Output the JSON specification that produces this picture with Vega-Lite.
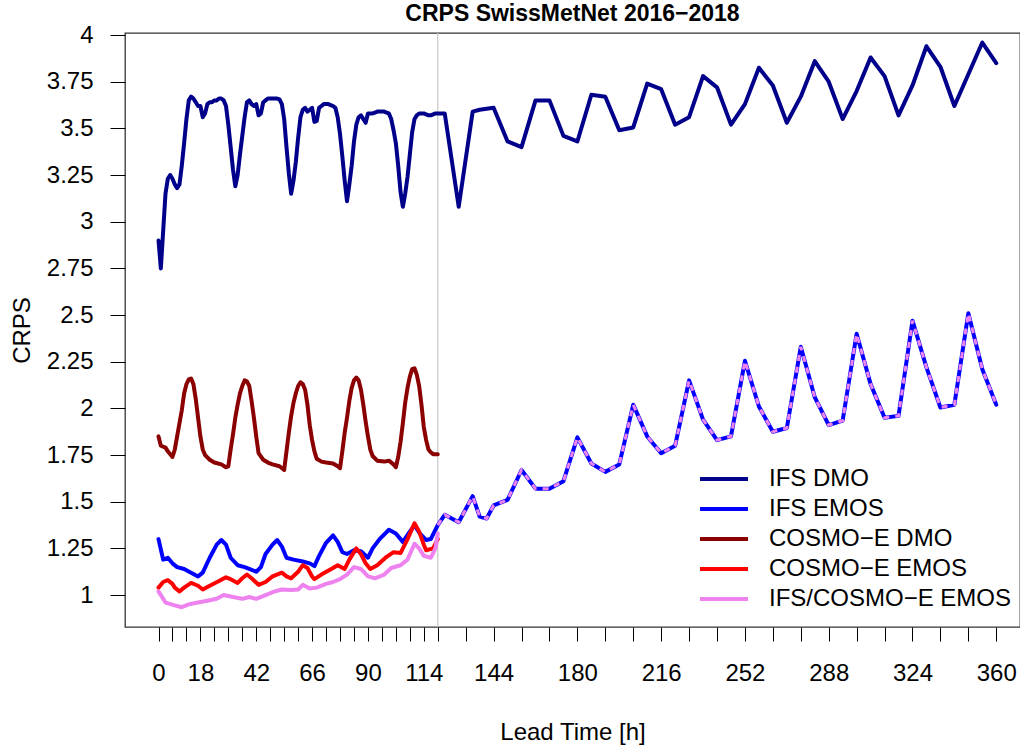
{
  "$schema": "https://vega.github.io/schema/vega-lite/v6.json",
  "autosize": "none",
  "width": 895,
  "height": 594,
  "padding": {"left": 125, "top": 33, "right": 0, "bottom": 120},
  "background": "white",
  "title": {"text": "CRPS SwissMetNet 2016−2018", "font": "Liberation Sans", "fontSize": 23, "fontWeight": "bold", "color": "#000", "anchor": "middle", "offset": -3},
  "config": {"view": {"stroke": "#333", "strokeWidth": 1.3}, "font": "Liberation Sans", "axis": {"labelOverlap": false, "labelSeparation": -200}},
  "datasets": {
    "crps": [
      {"series":"IFS DMO","h":0,"crps":2.90},{"series":"IFS DMO","h":1,"crps":2.75},{"series":"IFS DMO","h":2,"crps":2.95},{"series":"IFS DMO","h":3,"crps":3.15},{"series":"IFS DMO","h":4,"crps":3.23},{"series":"IFS DMO","h":5,"crps":3.25},{"series":"IFS DMO","h":6,"crps":3.23},{"series":"IFS DMO","h":7,"crps":3.20},{"series":"IFS DMO","h":8,"crps":3.18},{"series":"IFS DMO","h":9,"crps":3.20},{"series":"IFS DMO","h":10,"crps":3.30},{"series":"IFS DMO","h":11,"crps":3.42},{"series":"IFS DMO","h":12,"crps":3.55},{"series":"IFS DMO","h":13,"crps":3.65},{"series":"IFS DMO","h":14,"crps":3.67},{"series":"IFS DMO","h":15,"crps":3.66},{"series":"IFS DMO","h":16,"crps":3.64},{"series":"IFS DMO","h":17,"crps":3.62},{"series":"IFS DMO","h":18,"crps":3.62},{"series":"IFS DMO","h":19,"crps":3.56},{"series":"IFS DMO","h":20,"crps":3.58},{"series":"IFS DMO","h":21,"crps":3.63},{"series":"IFS DMO","h":22,"crps":3.64},{"series":"IFS DMO","h":23,"crps":3.64},{"series":"IFS DMO","h":24,"crps":3.65},{"series":"IFS DMO","h":25,"crps":3.65},{"series":"IFS DMO","h":26,"crps":3.66},{"series":"IFS DMO","h":27,"crps":3.66},{"series":"IFS DMO","h":28,"crps":3.65},{"series":"IFS DMO","h":29,"crps":3.62},{"series":"IFS DMO","h":30,"crps":3.52},{"series":"IFS DMO","h":31,"crps":3.40},{"series":"IFS DMO","h":32,"crps":3.28},{"series":"IFS DMO","h":33,"crps":3.19},{"series":"IFS DMO","h":34,"crps":3.25},{"series":"IFS DMO","h":35,"crps":3.36},{"series":"IFS DMO","h":36,"crps":3.46},{"series":"IFS DMO","h":37,"crps":3.56},{"series":"IFS DMO","h":38,"crps":3.64},{"series":"IFS DMO","h":39,"crps":3.65},{"series":"IFS DMO","h":40,"crps":3.63},{"series":"IFS DMO","h":41,"crps":3.62},{"series":"IFS DMO","h":42,"crps":3.63},{"series":"IFS DMO","h":43,"crps":3.57},{"series":"IFS DMO","h":44,"crps":3.58},{"series":"IFS DMO","h":45,"crps":3.64},{"series":"IFS DMO","h":46,"crps":3.65},{"series":"IFS DMO","h":47,"crps":3.66},{"series":"IFS DMO","h":48,"crps":3.66},{"series":"IFS DMO","h":49,"crps":3.66},{"series":"IFS DMO","h":50,"crps":3.66},{"series":"IFS DMO","h":51,"crps":3.66},{"series":"IFS DMO","h":52,"crps":3.655},{"series":"IFS DMO","h":53,"crps":3.63},{"series":"IFS DMO","h":54,"crps":3.55},{"series":"IFS DMO","h":55,"crps":3.40},{"series":"IFS DMO","h":56,"crps":3.26},{"series":"IFS DMO","h":57,"crps":3.15},{"series":"IFS DMO","h":58,"crps":3.22},{"series":"IFS DMO","h":59,"crps":3.32},{"series":"IFS DMO","h":60,"crps":3.45},{"series":"IFS DMO","h":61,"crps":3.56},{"series":"IFS DMO","h":62,"crps":3.60},{"series":"IFS DMO","h":63,"crps":3.61},{"series":"IFS DMO","h":64,"crps":3.59},{"series":"IFS DMO","h":65,"crps":3.60},{"series":"IFS DMO","h":66,"crps":3.61},{"series":"IFS DMO","h":67,"crps":3.535},{"series":"IFS DMO","h":68,"crps":3.54},{"series":"IFS DMO","h":69,"crps":3.61},{"series":"IFS DMO","h":70,"crps":3.62},{"series":"IFS DMO","h":71,"crps":3.63},{"series":"IFS DMO","h":72,"crps":3.63},{"series":"IFS DMO","h":73,"crps":3.63},{"series":"IFS DMO","h":74,"crps":3.625},{"series":"IFS DMO","h":75,"crps":3.62},{"series":"IFS DMO","h":76,"crps":3.61},{"series":"IFS DMO","h":77,"crps":3.56},{"series":"IFS DMO","h":78,"crps":3.47},{"series":"IFS DMO","h":79,"crps":3.35},{"series":"IFS DMO","h":80,"crps":3.22},{"series":"IFS DMO","h":81,"crps":3.11},{"series":"IFS DMO","h":82,"crps":3.20},{"series":"IFS DMO","h":83,"crps":3.30},{"series":"IFS DMO","h":84,"crps":3.43},{"series":"IFS DMO","h":85,"crps":3.52},{"series":"IFS DMO","h":86,"crps":3.56},{"series":"IFS DMO","h":87,"crps":3.57},{"series":"IFS DMO","h":88,"crps":3.55},{"series":"IFS DMO","h":89,"crps":3.53},{"series":"IFS DMO","h":90,"crps":3.58},{"series":"IFS DMO","h":91,"crps":3.58},{"series":"IFS DMO","h":92,"crps":3.58},{"series":"IFS DMO","h":93,"crps":3.585},{"series":"IFS DMO","h":94,"crps":3.59},{"series":"IFS DMO","h":95,"crps":3.59},{"series":"IFS DMO","h":96,"crps":3.59},{"series":"IFS DMO","h":97,"crps":3.59},{"series":"IFS DMO","h":98,"crps":3.585},{"series":"IFS DMO","h":99,"crps":3.58},{"series":"IFS DMO","h":100,"crps":3.55},{"series":"IFS DMO","h":101,"crps":3.49},{"series":"IFS DMO","h":102,"crps":3.42},{"series":"IFS DMO","h":103,"crps":3.30},{"series":"IFS DMO","h":104,"crps":3.16},{"series":"IFS DMO","h":105,"crps":3.08},{"series":"IFS DMO","h":106,"crps":3.15},{"series":"IFS DMO","h":107,"crps":3.24},{"series":"IFS DMO","h":108,"crps":3.36},{"series":"IFS DMO","h":109,"crps":3.48},{"series":"IFS DMO","h":110,"crps":3.55},{"series":"IFS DMO","h":111,"crps":3.57},{"series":"IFS DMO","h":112,"crps":3.58},{"series":"IFS DMO","h":113,"crps":3.58},{"series":"IFS DMO","h":114,"crps":3.58},{"series":"IFS DMO","h":115,"crps":3.575},{"series":"IFS DMO","h":116,"crps":3.57},{"series":"IFS DMO","h":117,"crps":3.57},{"series":"IFS DMO","h":118,"crps":3.575},{"series":"IFS DMO","h":119,"crps":3.58},{"series":"IFS DMO","h":120,"crps":3.58},{"series":"IFS DMO","h":123,"crps":3.58},{"series":"IFS DMO","h":129,"crps":3.08},{"series":"IFS DMO","h":135,"crps":3.59},{"series":"IFS DMO","h":138,"crps":3.60},{"series":"IFS DMO","h":144,"crps":3.61},{"series":"IFS DMO","h":150,"crps":3.43},{"series":"IFS DMO","h":156,"crps":3.40},{"series":"IFS DMO","h":162,"crps":3.65},{"series":"IFS DMO","h":168,"crps":3.65},{"series":"IFS DMO","h":174,"crps":3.46},{"series":"IFS DMO","h":180,"crps":3.43},{"series":"IFS DMO","h":186,"crps":3.68},{"series":"IFS DMO","h":192,"crps":3.67},{"series":"IFS DMO","h":198,"crps":3.49},{"series":"IFS DMO","h":204,"crps":3.505},{"series":"IFS DMO","h":210,"crps":3.74},{"series":"IFS DMO","h":216,"crps":3.71},{"series":"IFS DMO","h":222,"crps":3.52},{"series":"IFS DMO","h":228,"crps":3.56},{"series":"IFS DMO","h":234,"crps":3.78},{"series":"IFS DMO","h":240,"crps":3.72},{"series":"IFS DMO","h":246,"crps":3.52},{"series":"IFS DMO","h":252,"crps":3.63},{"series":"IFS DMO","h":258,"crps":3.825},{"series":"IFS DMO","h":264,"crps":3.73},{"series":"IFS DMO","h":270,"crps":3.53},{"series":"IFS DMO","h":276,"crps":3.67},{"series":"IFS DMO","h":282,"crps":3.86},{"series":"IFS DMO","h":288,"crps":3.75},{"series":"IFS DMO","h":294,"crps":3.55},{"series":"IFS DMO","h":300,"crps":3.70},{"series":"IFS DMO","h":306,"crps":3.88},{"series":"IFS DMO","h":312,"crps":3.78},{"series":"IFS DMO","h":318,"crps":3.57},{"series":"IFS DMO","h":324,"crps":3.73},{"series":"IFS DMO","h":330,"crps":3.94},{"series":"IFS DMO","h":336,"crps":3.83},{"series":"IFS DMO","h":342,"crps":3.62},{"series":"IFS DMO","h":348,"crps":3.79},{"series":"IFS DMO","h":354,"crps":3.96},{"series":"IFS DMO","h":360,"crps":3.85},

      {"series":"IFS EMOS","h":0,"crps":1.30},{"series":"IFS EMOS","h":2,"crps":1.19},{"series":"IFS EMOS","h":4,"crps":1.20},{"series":"IFS EMOS","h":6,"crps":1.17},{"series":"IFS EMOS","h":8,"crps":1.15},{"series":"IFS EMOS","h":11,"crps":1.14},{"series":"IFS EMOS","h":14,"crps":1.12},{"series":"IFS EMOS","h":17,"crps":1.10},{"series":"IFS EMOS","h":19,"crps":1.12},{"series":"IFS EMOS","h":22,"crps":1.20},{"series":"IFS EMOS","h":25,"crps":1.27},{"series":"IFS EMOS","h":27,"crps":1.295},{"series":"IFS EMOS","h":29,"crps":1.27},{"series":"IFS EMOS","h":31,"crps":1.20},{"series":"IFS EMOS","h":34,"crps":1.16},{"series":"IFS EMOS","h":37,"crps":1.15},{"series":"IFS EMOS","h":39,"crps":1.14},{"series":"IFS EMOS","h":42,"crps":1.125},{"series":"IFS EMOS","h":44,"crps":1.15},{"series":"IFS EMOS","h":46,"crps":1.22},{"series":"IFS EMOS","h":49,"crps":1.27},{"series":"IFS EMOS","h":51,"crps":1.295},{"series":"IFS EMOS","h":53,"crps":1.26},{"series":"IFS EMOS","h":55,"crps":1.20},{"series":"IFS EMOS","h":58,"crps":1.19},{"series":"IFS EMOS","h":62,"crps":1.18},{"series":"IFS EMOS","h":65,"crps":1.17},{"series":"IFS EMOS","h":67,"crps":1.155},{"series":"IFS EMOS","h":69,"crps":1.21},{"series":"IFS EMOS","h":72,"crps":1.28},{"series":"IFS EMOS","h":75,"crps":1.32},{"series":"IFS EMOS","h":77,"crps":1.285},{"series":"IFS EMOS","h":79,"crps":1.23},{"series":"IFS EMOS","h":81,"crps":1.22},{"series":"IFS EMOS","h":84,"crps":1.24},{"series":"IFS EMOS","h":87,"crps":1.235},{"series":"IFS EMOS","h":90,"crps":1.20},{"series":"IFS EMOS","h":92,"crps":1.25},{"series":"IFS EMOS","h":95,"crps":1.30},{"series":"IFS EMOS","h":99,"crps":1.35},{"series":"IFS EMOS","h":102,"crps":1.33},{"series":"IFS EMOS","h":105,"crps":1.285},{"series":"IFS EMOS","h":108,"crps":1.34},{"series":"IFS EMOS","h":110,"crps":1.375},{"series":"IFS EMOS","h":112,"crps":1.335},{"series":"IFS EMOS","h":115,"crps":1.295},{"series":"IFS EMOS","h":117,"crps":1.30},{"series":"IFS EMOS","h":120,"crps":1.375},{"series":"IFS EMOS","h":123,"crps":1.43},{"series":"IFS EMOS","h":129,"crps":1.39},{"series":"IFS EMOS","h":135,"crps":1.53},{"series":"IFS EMOS","h":138,"crps":1.42},{"series":"IFS EMOS","h":141,"crps":1.41},{"series":"IFS EMOS","h":144,"crps":1.48},{"series":"IFS EMOS","h":150,"crps":1.51},{"series":"IFS EMOS","h":156,"crps":1.67},{"series":"IFS EMOS","h":162,"crps":1.57},{"series":"IFS EMOS","h":168,"crps":1.57},{"series":"IFS EMOS","h":174,"crps":1.61},{"series":"IFS EMOS","h":180,"crps":1.845},{"series":"IFS EMOS","h":186,"crps":1.705},{"series":"IFS EMOS","h":192,"crps":1.66},{"series":"IFS EMOS","h":198,"crps":1.70},{"series":"IFS EMOS","h":204,"crps":2.02},{"series":"IFS EMOS","h":210,"crps":1.85},{"series":"IFS EMOS","h":216,"crps":1.76},{"series":"IFS EMOS","h":222,"crps":1.80},{"series":"IFS EMOS","h":228,"crps":2.15},{"series":"IFS EMOS","h":234,"crps":1.94},{"series":"IFS EMOS","h":240,"crps":1.83},{"series":"IFS EMOS","h":246,"crps":1.85},{"series":"IFS EMOS","h":252,"crps":2.255},{"series":"IFS EMOS","h":258,"crps":2.01},{"series":"IFS EMOS","h":264,"crps":1.875},{"series":"IFS EMOS","h":270,"crps":1.895},{"series":"IFS EMOS","h":276,"crps":2.33},{"series":"IFS EMOS","h":282,"crps":2.06},{"series":"IFS EMOS","h":288,"crps":1.91},{"series":"IFS EMOS","h":294,"crps":1.935},{"series":"IFS EMOS","h":300,"crps":2.40},{"series":"IFS EMOS","h":306,"crps":2.13},{"series":"IFS EMOS","h":312,"crps":1.95},{"series":"IFS EMOS","h":318,"crps":1.96},{"series":"IFS EMOS","h":324,"crps":2.47},{"series":"IFS EMOS","h":330,"crps":2.22},{"series":"IFS EMOS","h":336,"crps":2.005},{"series":"IFS EMOS","h":342,"crps":2.02},{"series":"IFS EMOS","h":348,"crps":2.51},{"series":"IFS EMOS","h":354,"crps":2.21},{"series":"IFS EMOS","h":360,"crps":2.02},

      {"series":"COSMO−E DMO","h":0,"crps":1.85},{"series":"COSMO−E DMO","h":1,"crps":1.80},{"series":"COSMO−E DMO","h":3,"crps":1.79},{"series":"COSMO−E DMO","h":4,"crps":1.77},{"series":"COSMO−E DMO","h":6,"crps":1.74},{"series":"COSMO−E DMO","h":7,"crps":1.78},{"series":"COSMO−E DMO","h":8,"crps":1.85},{"series":"COSMO−E DMO","h":9,"crps":1.92},{"series":"COSMO−E DMO","h":10,"crps":1.99},{"series":"COSMO−E DMO","h":11,"crps":2.08},{"series":"COSMO−E DMO","h":12,"crps":2.13},{"series":"COSMO−E DMO","h":13,"crps":2.155},{"series":"COSMO−E DMO","h":14,"crps":2.16},{"series":"COSMO−E DMO","h":15,"crps":2.13},{"series":"COSMO−E DMO","h":16,"crps":2.05},{"series":"COSMO−E DMO","h":17,"crps":1.95},{"series":"COSMO−E DMO","h":18,"crps":1.85},{"series":"COSMO−E DMO","h":19,"crps":1.78},{"series":"COSMO−E DMO","h":20,"crps":1.75},{"series":"COSMO−E DMO","h":22,"crps":1.725},{"series":"COSMO−E DMO","h":24,"crps":1.71},{"series":"COSMO−E DMO","h":27,"crps":1.70},{"series":"COSMO−E DMO","h":29,"crps":1.685},{"series":"COSMO−E DMO","h":30,"crps":1.69},{"series":"COSMO−E DMO","h":31,"crps":1.78},{"series":"COSMO−E DMO","h":32,"crps":1.86},{"series":"COSMO−E DMO","h":33,"crps":1.95},{"series":"COSMO−E DMO","h":34,"crps":2.02},{"series":"COSMO−E DMO","h":35,"crps":2.08},{"series":"COSMO−E DMO","h":36,"crps":2.12},{"series":"COSMO−E DMO","h":37,"crps":2.15},{"series":"COSMO−E DMO","h":38,"crps":2.145},{"series":"COSMO−E DMO","h":39,"crps":2.12},{"series":"COSMO−E DMO","h":40,"crps":2.04},{"series":"COSMO−E DMO","h":41,"crps":1.95},{"series":"COSMO−E DMO","h":42,"crps":1.85},{"series":"COSMO−E DMO","h":43,"crps":1.76},{"series":"COSMO−E DMO","h":45,"crps":1.725},{"series":"COSMO−E DMO","h":47,"crps":1.71},{"series":"COSMO−E DMO","h":49,"crps":1.70},{"series":"COSMO−E DMO","h":52,"crps":1.69},{"series":"COSMO−E DMO","h":54,"crps":1.67},{"series":"COSMO−E DMO","h":55,"crps":1.77},{"series":"COSMO−E DMO","h":56,"crps":1.87},{"series":"COSMO−E DMO","h":57,"crps":1.96},{"series":"COSMO−E DMO","h":58,"crps":2.03},{"series":"COSMO−E DMO","h":59,"crps":2.08},{"series":"COSMO−E DMO","h":60,"crps":2.12},{"series":"COSMO−E DMO","h":61,"crps":2.14},{"series":"COSMO−E DMO","h":62,"crps":2.13},{"series":"COSMO−E DMO","h":63,"crps":2.10},{"series":"COSMO−E DMO","h":64,"crps":2.02},{"series":"COSMO−E DMO","h":65,"crps":1.91},{"series":"COSMO−E DMO","h":66,"crps":1.83},{"series":"COSMO−E DMO","h":67,"crps":1.77},{"series":"COSMO−E DMO","h":68,"crps":1.73},{"series":"COSMO−E DMO","h":70,"crps":1.715},{"series":"COSMO−E DMO","h":72,"crps":1.71},{"series":"COSMO−E DMO","h":75,"crps":1.705},{"series":"COSMO−E DMO","h":77,"crps":1.69},{"series":"COSMO−E DMO","h":78,"crps":1.68},{"series":"COSMO−E DMO","h":79,"crps":1.77},{"series":"COSMO−E DMO","h":80,"crps":1.87},{"series":"COSMO−E DMO","h":81,"crps":1.95},{"series":"COSMO−E DMO","h":82,"crps":2.04},{"series":"COSMO−E DMO","h":83,"crps":2.11},{"series":"COSMO−E DMO","h":84,"crps":2.15},{"series":"COSMO−E DMO","h":85,"crps":2.165},{"series":"COSMO−E DMO","h":86,"crps":2.15},{"series":"COSMO−E DMO","h":87,"crps":2.10},{"series":"COSMO−E DMO","h":88,"crps":2.02},{"series":"COSMO−E DMO","h":89,"crps":1.93},{"series":"COSMO−E DMO","h":90,"crps":1.85},{"series":"COSMO−E DMO","h":91,"crps":1.78},{"series":"COSMO−E DMO","h":92,"crps":1.745},{"series":"COSMO−E DMO","h":94,"crps":1.72},{"series":"COSMO−E DMO","h":97,"crps":1.715},{"series":"COSMO−E DMO","h":99,"crps":1.72},{"series":"COSMO−E DMO","h":101,"crps":1.70},{"series":"COSMO−E DMO","h":102,"crps":1.685},{"series":"COSMO−E DMO","h":103,"crps":1.74},{"series":"COSMO−E DMO","h":104,"crps":1.82},{"series":"COSMO−E DMO","h":105,"crps":1.92},{"series":"COSMO−E DMO","h":106,"crps":2.03},{"series":"COSMO−E DMO","h":107,"crps":2.11},{"series":"COSMO−E DMO","h":108,"crps":2.17},{"series":"COSMO−E DMO","h":109,"crps":2.21},{"series":"COSMO−E DMO","h":110,"crps":2.215},{"series":"COSMO−E DMO","h":111,"crps":2.18},{"series":"COSMO−E DMO","h":112,"crps":2.12},{"series":"COSMO−E DMO","h":113,"crps":2.02},{"series":"COSMO−E DMO","h":114,"crps":1.90},{"series":"COSMO−E DMO","h":115,"crps":1.83},{"series":"COSMO−E DMO","h":116,"crps":1.78},{"series":"COSMO−E DMO","h":117,"crps":1.765},{"series":"COSMO−E DMO","h":118,"crps":1.755},{"series":"COSMO−E DMO","h":120,"crps":1.755},

      {"series":"COSMO−E EMOS","h":0,"crps":1.04},{"series":"COSMO−E EMOS","h":2,"crps":1.07},{"series":"COSMO−E EMOS","h":4,"crps":1.08},{"series":"COSMO−E EMOS","h":6,"crps":1.06},{"series":"COSMO−E EMOS","h":7,"crps":1.04},{"series":"COSMO−E EMOS","h":9,"crps":1.02},{"series":"COSMO−E EMOS","h":11,"crps":1.04},{"series":"COSMO−E EMOS","h":14,"crps":1.065},{"series":"COSMO−E EMOS","h":17,"crps":1.05},{"series":"COSMO−E EMOS","h":19,"crps":1.03},{"series":"COSMO−E EMOS","h":22,"crps":1.05},{"series":"COSMO−E EMOS","h":26,"crps":1.075},{"series":"COSMO−E EMOS","h":29,"crps":1.095},{"series":"COSMO−E EMOS","h":31,"crps":1.085},{"series":"COSMO−E EMOS","h":34,"crps":1.065},{"series":"COSMO−E EMOS","h":36,"crps":1.09},{"series":"COSMO−E EMOS","h":38,"crps":1.11},{"series":"COSMO−E EMOS","h":40,"crps":1.09},{"series":"COSMO−E EMOS","h":43,"crps":1.055},{"series":"COSMO−E EMOS","h":46,"crps":1.07},{"series":"COSMO−E EMOS","h":49,"crps":1.10},{"series":"COSMO−E EMOS","h":53,"crps":1.12},{"series":"COSMO−E EMOS","h":55,"crps":1.10},{"series":"COSMO−E EMOS","h":57,"crps":1.09},{"series":"COSMO−E EMOS","h":60,"crps":1.125},{"series":"COSMO−E EMOS","h":62,"crps":1.16},{"series":"COSMO−E EMOS","h":64,"crps":1.145},{"series":"COSMO−E EMOS","h":66,"crps":1.10},{"series":"COSMO−E EMOS","h":67,"crps":1.085},{"series":"COSMO−E EMOS","h":70,"crps":1.11},{"series":"COSMO−E EMOS","h":75,"crps":1.145},{"series":"COSMO−E EMOS","h":77,"crps":1.16},{"series":"COSMO−E EMOS","h":80,"crps":1.14},{"series":"COSMO−E EMOS","h":82,"crps":1.19},{"series":"COSMO−E EMOS","h":85,"crps":1.25},{"series":"COSMO−E EMOS","h":87,"crps":1.22},{"series":"COSMO−E EMOS","h":89,"crps":1.17},{"series":"COSMO−E EMOS","h":91,"crps":1.14},{"series":"COSMO−E EMOS","h":94,"crps":1.16},{"series":"COSMO−E EMOS","h":98,"crps":1.205},{"series":"COSMO−E EMOS","h":101,"crps":1.23},{"series":"COSMO−E EMOS","h":104,"crps":1.225},{"series":"COSMO−E EMOS","h":107,"crps":1.30},{"series":"COSMO−E EMOS","h":110,"crps":1.385},{"series":"COSMO−E EMOS","h":112,"crps":1.34},{"series":"COSMO−E EMOS","h":114,"crps":1.27},{"series":"COSMO−E EMOS","h":115,"crps":1.24},{"series":"COSMO−E EMOS","h":118,"crps":1.25},{"series":"COSMO−E EMOS","h":120,"crps":1.30},

      {"series":"IFS/COSMO−E EMOS","h":0,"crps":1.02},{"series":"IFS/COSMO−E EMOS","h":3,"crps":0.96},{"series":"IFS/COSMO−E EMOS","h":7,"crps":0.945},{"series":"IFS/COSMO−E EMOS","h":10,"crps":0.935},{"series":"IFS/COSMO−E EMOS","h":13,"crps":0.95},{"series":"IFS/COSMO−E EMOS","h":17,"crps":0.96},{"series":"IFS/COSMO−E EMOS","h":21,"crps":0.97},{"series":"IFS/COSMO−E EMOS","h":25,"crps":0.98},{"series":"IFS/COSMO−E EMOS","h":28,"crps":1.00},{"series":"IFS/COSMO−E EMOS","h":32,"crps":0.99},{"series":"IFS/COSMO−E EMOS","h":36,"crps":0.98},{"series":"IFS/COSMO−E EMOS","h":39,"crps":0.99},{"series":"IFS/COSMO−E EMOS","h":42,"crps":0.98},{"series":"IFS/COSMO−E EMOS","h":46,"crps":1.00},{"series":"IFS/COSMO−E EMOS","h":50,"crps":1.02},{"series":"IFS/COSMO−E EMOS","h":53,"crps":1.03},{"series":"IFS/COSMO−E EMOS","h":57,"crps":1.027},{"series":"IFS/COSMO−E EMOS","h":60,"crps":1.03},{"series":"IFS/COSMO−E EMOS","h":62,"crps":1.055},{"series":"IFS/COSMO−E EMOS","h":65,"crps":1.035},{"series":"IFS/COSMO−E EMOS","h":68,"crps":1.04},{"series":"IFS/COSMO−E EMOS","h":72,"crps":1.06},{"series":"IFS/COSMO−E EMOS","h":75,"crps":1.07},{"series":"IFS/COSMO−E EMOS","h":78,"crps":1.085},{"series":"IFS/COSMO−E EMOS","h":81,"crps":1.11},{"series":"IFS/COSMO−E EMOS","h":84,"crps":1.15},{"series":"IFS/COSMO−E EMOS","h":87,"crps":1.14},{"series":"IFS/COSMO−E EMOS","h":90,"crps":1.10},{"series":"IFS/COSMO−E EMOS","h":93,"crps":1.09},{"series":"IFS/COSMO−E EMOS","h":97,"crps":1.11},{"series":"IFS/COSMO−E EMOS","h":100,"crps":1.145},{"series":"IFS/COSMO−E EMOS","h":104,"crps":1.16},{"series":"IFS/COSMO−E EMOS","h":107,"crps":1.19},{"series":"IFS/COSMO−E EMOS","h":110,"crps":1.275},{"series":"IFS/COSMO−E EMOS","h":112,"crps":1.25},{"series":"IFS/COSMO−E EMOS","h":114,"crps":1.21},{"series":"IFS/COSMO−E EMOS","h":117,"crps":1.20},{"series":"IFS/COSMO−E EMOS","h":119,"crps":1.25},{"series":"IFS/COSMO−E EMOS","h":120,"crps":1.33}
    ]
  },
  "data": {"name": "crps"},
  "encoding": {
    "x": {
      "field": "h", "type": "quantitative",
      "scale": {"domain": [-14.4, 370.2], "nice": false, "zero": false},
      "axis": {
        "title": "Lead Time [h]",
        "values": [0,6,12,18,24,30,36,42,48,54,60,66,72,78,84,90,96,102,108,114,120,132,144,156,168,180,192,204,216,228,240,252,264,276,288,300,312,324,336,348,360],
        "labelExpr": "indexof([0,18,42,66,90,114,144,180,216,252,288,324,360], datum.value) >= 0 ? '' + datum.value : ''",
        "labelOverlap": false, "labelSeparation": -200, "labelFlush": false, "labelBound": false,
        "grid": false, "domain": false,
        "tickSize": 14, "tickColor": "#000", "tickWidth": 1,
        "labelPadding": 20, "labelFontSize": 24, "labelFont": "Liberation Sans", "labelColor": "#000",
        "titleFontSize": 24, "titleFont": "Liberation Sans", "titleFontWeight": "normal", "titleColor": "#000", "titlePadding": 35
      }
    },
    "y": {
      "field": "crps", "type": "quantitative",
      "scale": {"domain": [0.829, 4.011], "nice": false, "zero": false},
      "axis": {
        "title": "CRPS",
        "values": [1,1.25,1.5,1.75,2,2.25,2.5,2.75,3,3.25,3.5,3.75,4],
        "labelExpr": "'' + datum.value",
        "labelOverlap": false, "labelSeparation": -200, "labelBound": false, "labelFlush": false,
        "grid": false, "domain": false,
        "tickSize": 15, "tickColor": "#000", "tickWidth": 1,
        "labelPadding": 17, "labelFontSize": 24, "labelFont": "Liberation Sans", "labelColor": "#000",
        "titleFontSize": 24, "titleFont": "Liberation Sans", "titleFontWeight": "normal", "titleColor": "#000", "titlePadding": 12
      }
    }
  },
  "layer": [
    {
      "transform": [{"filter": "datum.series === 'IFS DMO' && datum.h === 120"}],
      "mark": {"type": "rule", "color": "#c8c8c8", "strokeWidth": 1.2},
      "encoding": {"y": null}
    },
    {
      "mark": {"type": "line", "strokeWidth": 4, "strokeJoin": "round", "strokeCap": "round"},
      "encoding": {
        "color": {
          "field": "series", "type": "nominal",
          "scale": {
            "domain": ["IFS DMO","IFS EMOS","COSMO−E DMO","COSMO−E EMOS","IFS/COSMO−E EMOS"],
            "range": ["#00008B","#0000FF","#8B0000","#FF0000","#EE82EE"]
          },
          "legend": {
            "orient": "none", "legendX": 575, "legendY": 434, "title": null, "padding": 0,
            "labelFontSize": 24, "labelFont": "Liberation Sans", "labelColor": "#000", "labelLimit": 400,
            "symbolType": "M-4,0H4", "symbolSize": 144, "symbolStrokeWidth": 4,
            "symbolOffset": 12, "labelOffset": 33, "rowPadding": 6
          }
        }
      }
    },
    {
      "transform": [{"filter": "datum.series === 'IFS EMOS' && datum.h >= 120"}],
      "mark": {"type": "line", "color": "#EE82EE", "strokeWidth": 3, "strokeDash": [6, 6]}
    }
  ]
}
